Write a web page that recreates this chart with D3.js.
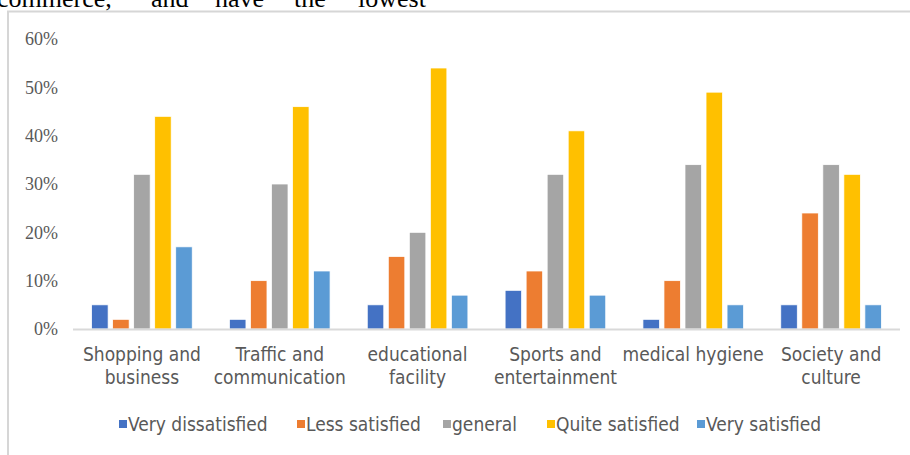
<!DOCTYPE html>
<html><head><meta charset="utf-8">
<script src="https://cdn.jsdelivr.net/npm/d3@7"></script>
<style>
html,body{margin:0;padding:0;background:#fff;overflow:hidden;}
svg{display:block;}
</style></head>
<body>
<svg id="c" width="910" height="455"></svg>
<script>
const categories = ["Shopping and business","Traffic and communication","educational facility","Sports and entertainment","medical hygiene","Society and culture"];
const categoryLines = [["Shopping and","business"],["Traffic and","communication"],["educational","facility"],["Sports and","entertainment"],["medical hygiene"],["Society and","culture"]];
const seriesNames = ["Very dissatisfied","Less satisfied","general","Quite satisfied","Very satisfied"];
const veryDissatisfied = [5,2,5,8,2,5];
const lessSatisfied = [2,10,15,12,10,24];
const general = [32,30,20,32,34,34];
const quiteSatisfied = [44,46,54,41,49,32];
const verySatisfied = [17,12,7,7,5,5];
const yTicks = [0,10,20,30,40,50,60];
const headerWords = ["commerce,","and","have","the","lowest"];

const seriesValues = [veryDissatisfied,lessSatisfied,general,quiteSatisfied,verySatisfied];
const colors = ["#4472C4","#ED7D31","#A5A5A5","#FFC000","#5B9BD5"];

const svg = d3.select("#c");

// header text (paragraph above the chart, cut by the top edge as in the source)
const headerX = [-3,151,215,294,358];
svg.selectAll("text.hdr").data(headerWords).join("text")
  .attr("class","hdr")
  .attr("x",(d,i)=>headerX[i]).attr("y",7)
  .attr("font-family","'Liberation Serif','Times New Roman',serif")
  .attr("font-size",26).attr("fill","#000")
  .text(d=>d);

// frame
svg.append("path").attr("d","M8,455 V11.5 H910")
  .attr("fill","none").attr("stroke","#d6d6d6").attr("stroke-width",2);

const x0 = d3.scaleBand().domain(categories).range([73,900]).paddingInner(0.27).paddingOuter(0.135);
const x1 = d3.scaleBand().domain(seriesNames).range([0,x0.bandwidth()]).paddingInner(0.215).paddingOuter(0);
const y = d3.scaleLinear().domain([0,60]).range([329,39]);

// y tick labels
svg.selectAll("text.yt").data(yTicks).join("text")
  .attr("class","yt")
  .attr("x",58).attr("y",d=>y(d)).attr("dy","0.35em")
  .attr("text-anchor","end")
  .attr("font-family","'Liberation Serif','Times New Roman',serif")
  .attr("font-size",18).attr("fill","#595959")
  .text(d=>d+"%");

// bars
const g = svg.append("g");
categories.forEach((c,ci)=>{
  seriesNames.forEach((s,si)=>{
    const v = seriesValues[si][ci];
    g.append("rect")
      .attr("x",x0(c)+x1(s)).attr("width",x1.bandwidth())
      .attr("y",y(v)).attr("height",y(0)-y(v))
      .attr("fill",colors[si]).attr("stroke","#fff").attr("stroke-width",0.75);
  });
});

// axis line
svg.append("line").attr("x1",73).attr("x2",900).attr("y1",y(0)+0.5).attr("y2",y(0)+0.5)
  .attr("stroke","#d9d9d9").attr("stroke-width",2);

// x labels
const labelFont = "'Liberation Sans Narrow','Arial Narrow','DejaVu Sans Condensed',sans-serif";
categories.forEach((c,ci)=>{
  const t = svg.append("text")
    .attr("x",x0(c)+x0.bandwidth()/2).attr("y",361)
    .attr("text-anchor","middle")
    .attr("font-family",labelFont).attr("font-size",19).attr("fill","#595959");
  categoryLines[ci].forEach((ln,li)=>{
    t.append("tspan").attr("x",x0(c)+x0.bandwidth()/2).attr("dy",li===0?0:23).text(ln);
  });
});

// legend
const legendX = [119,297,443,547,697];
const lg = svg.selectAll("g.lg").data(seriesNames).join("g").attr("class","lg")
  .attr("transform",(d,i)=>`translate(${legendX[i]},424)`);
lg.append("rect").attr("x",0).attr("y",-4).attr("width",8).attr("height",8)
  .attr("fill",(d,i)=>colors[i]);
lg.append("text").attr("x",9).attr("y",0).attr("dy","0.35em")
  .attr("font-family",labelFont).attr("font-size",19).attr("fill","#595959")
  .text(d=>d);
</script>
</body></html>
